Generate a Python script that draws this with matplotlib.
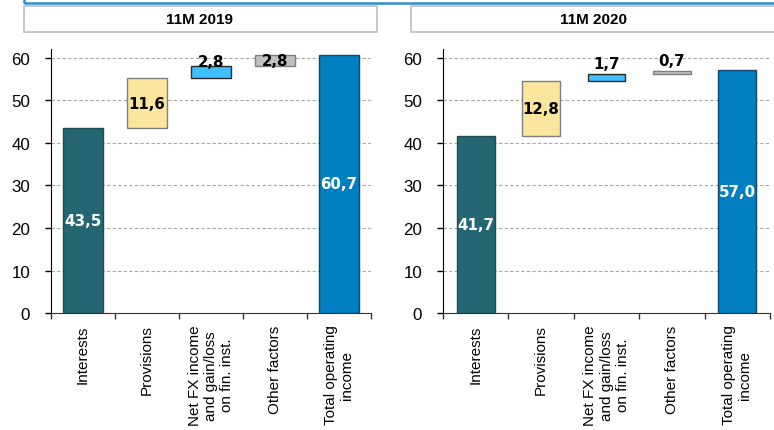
import matplotlib
matplotlib.use("Agg")
import matplotlib.pyplot as plt
from matplotlib.patches import Rectangle

categories = ["Interests", "Provisions", "Net FX income\nand gain/loss\non fin. inst.",
              "Other factors", "Total operating\nincome"]
panel_titles = ["11M 2019", "11M 2020"]
values_2019 = [43.5, 11.6, 2.8, 2.8, 60.7]
values_2020 = [41.7, 12.8, 1.7, 0.7, 57.0]
labels_2019 = ["43,5", "11,6", "2,8", "2,8", "60,7"]
labels_2020 = ["41,7", "12,8", "1,7", "0,7", "57,0"]
yticks = [0, 10, 20, 30, 40, 50, 60]

colors = ["#256673", "#FAE69C", "#40BFFF", "#C0C0C0", "#0080C0"]
edges = ["#1E4C55", "#7F7F7F", "#2A2A2A", "#7F7F7F", "#15456A"]
text_colors = ["white", "black", "black", "black", "white"]
label_mode_2019 = ["mid", "mid", "above", "mid", "mid"]
label_mode_2020 = ["mid", "mid", "above", "above", "mid"]
above_off = [1.1, 2.5]

W, H = 774, 431
fig = plt.figure(figsize=(W / 100, H / 100), dpi=100)

def fx(px):
    return px / W

def fy(py):
    return 1 - py / H

# top (cut-off) title box
fig.patches.append(Rectangle((fx(24), fy(3.5)), fx(800) - fx(24), fy(-30) - fy(3.5),
                             transform=fig.transFigure, fill=False, edgecolor="#2E8FD0",
                             linewidth=1.8, clip_on=False))

panels = [
    dict(ax_left=51, ax_right=371, box=(24, 377), text_x=200, vals=values_2019, labs=labels_2019,
         mode=label_mode_2019, off=above_off[0], width=0.61),
    dict(ax_left=443, ax_right=770, box=(411, 800), text_x=594, vals=values_2020, labs=labels_2020,
         mode=label_mode_2020, off=above_off[1], width=0.58),
]

y_top_px, y_zero_px = 50, 314.3
ymax = 62

for p, title in zip(panels, panel_titles):
    b0, b1 = p["box"]
    fig.patches.append(Rectangle((fx(b0), fy(32.5)), fx(b1) - fx(b0), fy(6.5) - fy(32.5),
                                 transform=fig.transFigure, facecolor="white",
                                 edgecolor="#BFBFBF", linewidth=1.2, clip_on=False))
    fig.text(fx(p["text_x"]), (fy(6.5) + fy(32.5)) / 2, title, ha="center", va="center",
             fontsize=11, fontweight="bold", family="Liberation Sans")

    ax = fig.add_axes([fx(p["ax_left"]), fy(y_zero_px), fx(p["ax_right"]) - fx(p["ax_left"]),
                       fy(y_top_px) - fy(y_zero_px)])
    vals = p["vals"]
    n = len(vals)
    bottoms = []
    running = 0.0
    for i, v in enumerate(vals):
        if i == 0 or i == n - 1:
            bottoms.append(0.0)
        else:
            bottoms.append(running)
        if i < n - 1:
            running += v
    xs = list(range(n))
    ax.bar(xs, vals, bottom=bottoms, width=p["width"], color=colors, edgecolor=edges,
           linewidth=1.0, zorder=3)
    for i, (v, b, lab) in enumerate(zip(vals, bottoms, p["labs"])):
        if p["mode"][i] == "mid":
            y = b + v / 2
        else:
            y = b + v + p["off"]
        ax.text(i, y, lab, ha="center", va="center", fontsize=10.8, fontweight="bold",
                color=text_colors[i], family="DejaVu Sans", zorder=4)

    ax.set_xlim(-0.5, n - 0.5)
    ax.set_ylim(0, ymax)
    ax.set_yticks(yticks)
    ax.set_yticklabels([str(t) for t in yticks], fontsize=12.2, family="Liberation Sans")
    ax.yaxis.grid(True, linestyle=(0, (3, 2)), color="#A6A6A6", linewidth=0.8, zorder=0)
    ax.set_axisbelow(True)
    ax.tick_params(axis="y", direction="out", length=4.5, width=1, pad=10.5, color="black")
    ax.set_xticks(xs)
    ax.set_xticklabels(categories, rotation=90, fontsize=11, family="Liberation Sans",
                       ha="center", va="top", multialignment="center")
    ax.set_xticks([i - 0.5 for i in range(n + 1)], minor=True)
    ax.tick_params(axis="x", which="major", length=0, pad=8)
    ax.tick_params(axis="x", which="minor", direction="out", length=4.5, width=1, color="#333333")
    for s in ["top", "right"]:
        ax.spines[s].set_visible(False)
    ax.spines["left"].set_color("black")
    ax.spines["bottom"].set_color("#333333")

fig.savefig("out.png", dpi=100)
